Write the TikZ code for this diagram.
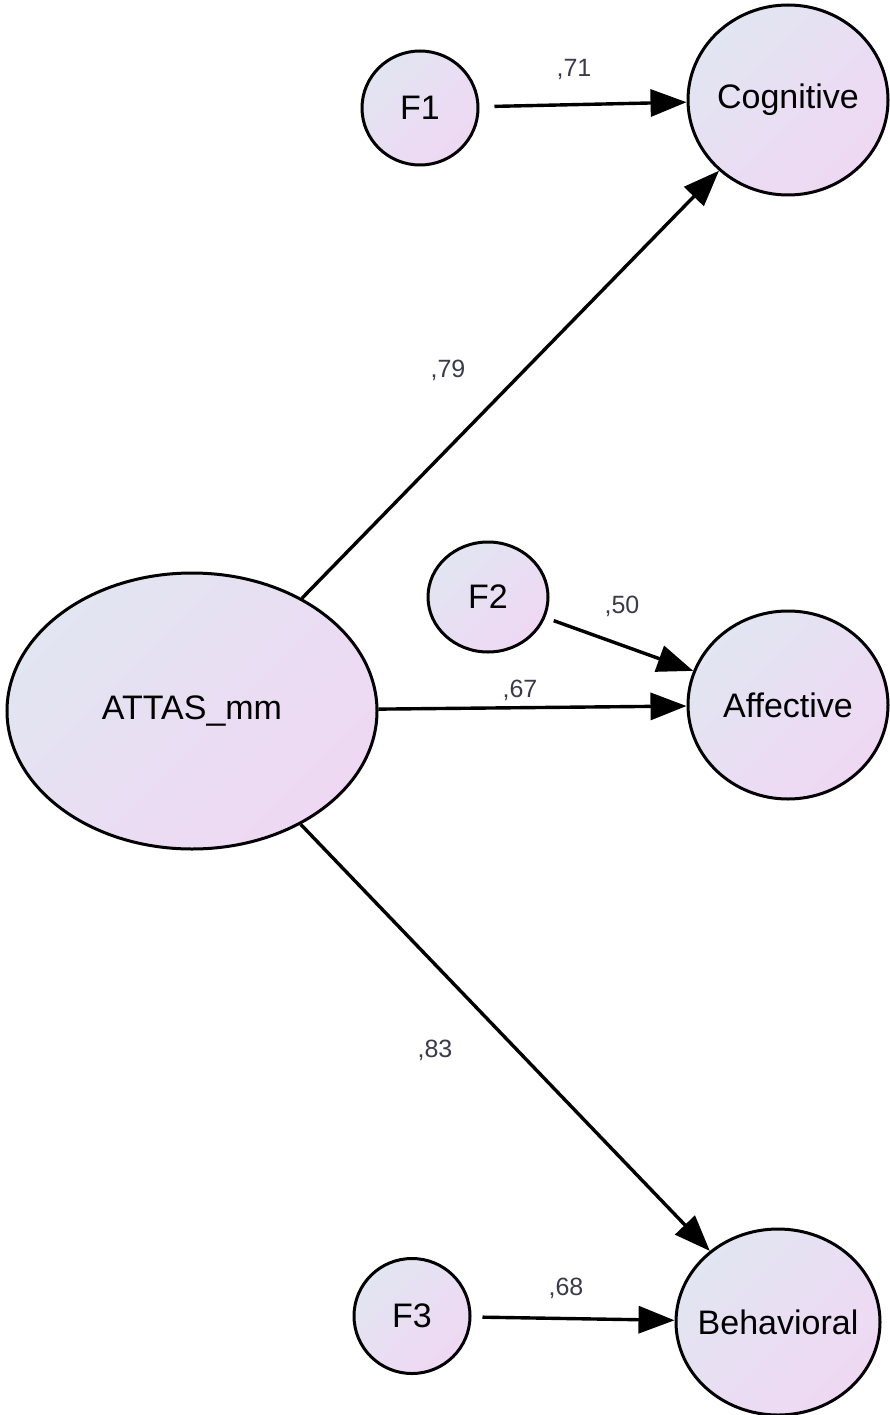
\documentclass[tikz,border=0pt]{standalone}
\usepackage{fontspec}
\setmainfont{Liberation Sans}
\usetikzlibrary{shapes.geometric,arrows.meta}
\definecolor{fillA}{HTML}{E2E5F2}
\definecolor{fillB}{HTML}{EFD8F3}
\definecolor{lblc}{HTML}{3A3A4A}
\begin{document}
\begin{tikzpicture}[x=1pt,y=-1pt,
  lat/.style={ellipse, draw=black, line width=3pt, top color=fillA, bottom color=fillB, shading angle=45, inner sep=0pt, font=\fontsize{34}{38}\selectfont},
  arr/.style={line width=3.4pt, -{Triangle[length=36pt,width=27pt]}},
  lbl/.style={font=\fontsize{25}{28}\selectfont, text=lblc, inner sep=0pt}]
\useasboundingbox (0,0) rectangle (890,1415);
\node[lat, minimum width=116pt, minimum height=114pt] (F1) at (420,108) {F1};
\node[lat, minimum width=200pt, minimum height=190pt, inner xsep=-10pt] (Cog) at (788,100) {Cognitive};
\node[lat, minimum width=370pt, minimum height=276pt] (AT) at (192,711) {ATTAS\_mm};
\node[lat, minimum width=120pt, minimum height=110pt] (F2) at (488,597) {F2};
\node[lat, minimum width=200pt, minimum height=188pt, inner xsep=-10pt] (Aff) at (788,705) {Affective};
\node[lat, minimum width=116pt, minimum height=115pt] (F3) at (412,1316) {F3};
\node[lat, minimum width=204pt, minimum height=186pt, inner xsep=-22pt] (Beh) at (778,1322) {Behavioral};
\draw[arr, shorten <=15pt] (F1) -- (Cog);
\draw[arr] (AT) -- (Cog);
\draw[arr, shorten <=9pt] (F2) -- (Aff);
\draw[arr] (AT) -- (Aff);
\draw[arr] (AT) -- (Beh);
\draw[arr, shorten <=11pt] (F3) -- (Beh);
\node[lbl] (l71) at (574,70) {,71};
\node[lbl] (l79) at (448,370) {,79};
\node[lbl] (l50) at (622,606) {,50};
\node[lbl] (l67) at (520,690) {,67};
\node[lbl] (l83) at (435,1050) {,83};
\node[lbl] (l68) at (566,1288) {,68};
\end{tikzpicture}
\end{document}
